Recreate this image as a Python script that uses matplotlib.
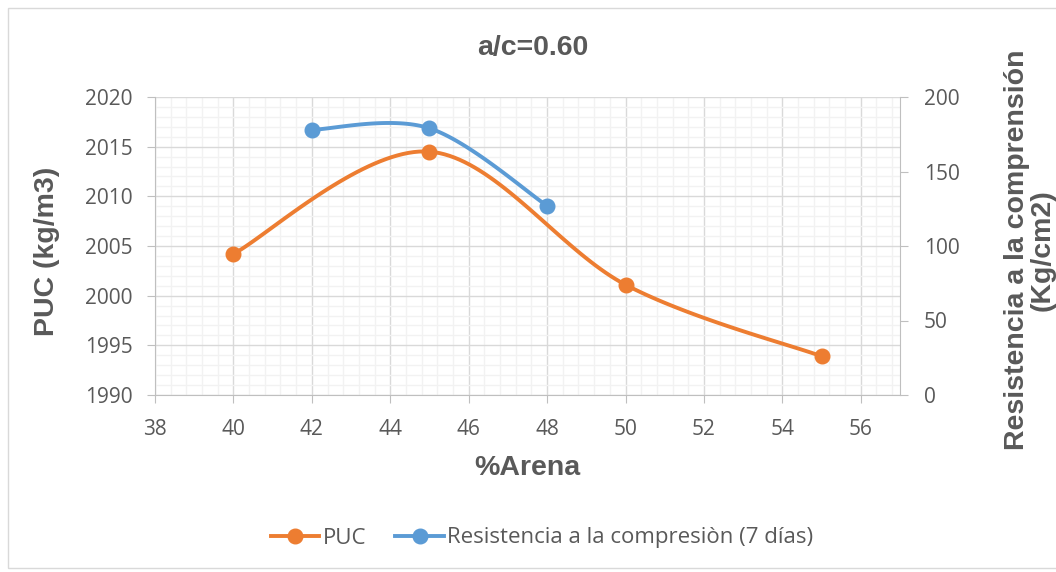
import numpy as np
import matplotlib.pyplot as plt
from matplotlib.patches import Rectangle
from matplotlib.ticker import MultipleLocator

# data
arena_puc = [40, 45, 50, 55]
puc = [2004.2, 2014.5, 2001.1, 1993.9]
arena_res = [42, 45, 48]
resistencia = [178, 179, 127]

title = "a/c=0.60"
xlabel = "%Arena"
ylabel_left = "PUC (kg/m3)"
ylabel_right = "Resistencia a la comprensión\n(Kg/cm2)"
legend_labels = ["PUC", "Resistencia a la compresiòn (7 días)"]

ORANGE = "#ED7D31"
BLUE = "#5B9BD5"
TXT = "#595959"


def smooth(x, y, n=40):
    # Excel-style smoothed line: cubic Bezier with Catmull-Rom control points
    x = np.asarray(x, float)
    y = np.asarray(y, float)
    pts = np.column_stack([x, y])
    out = [pts[0]]
    t = np.linspace(0, 1, n)[1:]
    for i in range(len(pts) - 1):
        p0 = pts[i - 1] if i > 0 else pts[i]
        p1 = pts[i]
        p2 = pts[i + 1]
        p3 = pts[i + 2] if i + 2 < len(pts) else pts[i + 1]
        c1 = p1 + (p2 - p0) / 6
        c2 = p2 - (p3 - p1) / 6
        for tt in t:
            b = ((1 - tt) ** 3) * p1 + 3 * ((1 - tt) ** 2) * tt * c1 \
                + 3 * (1 - tt) * tt ** 2 * c2 + tt ** 3 * p2
            out.append(b)
    out = np.array(out)
    return out[:, 0], out[:, 1]


plt.rcParams['font.family'] = ['Open Sans', 'DejaVu Sans']

fig = plt.figure(figsize=(10.56, 5.72), dpi=100)
fig.patches.append(Rectangle((8 / 1056, 4 / 572), 1.2, 560 / 572, transform=fig.transFigure,
                             fill=False, edgecolor="#D9D9D9", lw=1))

ax = fig.add_axes([155 / 1056, 1 - 395 / 572, 745 / 1056, 298 / 572])
ax2 = ax.twinx()

ax.set_xlim(38, 57)
ax.set_ylim(1990, 2020)
ax2.set_ylim(0, 200)

ax.xaxis.set_major_locator(MultipleLocator(2))
ax.xaxis.set_minor_locator(MultipleLocator(0.4))
ax.yaxis.set_major_locator(MultipleLocator(5))
ax.yaxis.set_minor_locator(MultipleLocator(1))
ax2.yaxis.set_major_locator(MultipleLocator(50))

ax.grid(which="minor", color="#F2F2F2", lw=1)
ax.grid(which="major", color="#D9D9D9", lw=1)
ax.set_axisbelow(True)

for a in (ax, ax2):
    for s in a.spines.values():
        s.set_visible(False)
ax.spines["left"].set_visible(True)
ax.spines["left"].set_color("#BFBFBF")
ax.spines["bottom"].set_visible(True)
ax.spines["bottom"].set_color("#BFBFBF")
ax2.spines["right"].set_visible(True)
ax2.spines["right"].set_color("#BFBFBF")

ax.tick_params(axis="y", which="major", length=6, color="#BFBFBF", labelsize=15,
               labelcolor=TXT, pad=10)
ax.tick_params(axis="x", which="major", length=6, color="#BFBFBF", labelsize=15,
               labelcolor=TXT, pad=11)
ax.tick_params(which="minor", length=0)
ax2.tick_params(which="major", length=6, color="#BFBFBF", labelsize=15, labelcolor=TXT, pad=11)
ax2.tick_params(which="minor", length=0)

xs, ys = smooth(arena_puc, puc)
ax.plot(xs, ys, color=ORANGE, lw=2.8, solid_capstyle="round")
ax.plot(arena_puc, puc, "o", color=ORANGE, ms=10.5)
xs, ys = smooth(arena_res, resistencia)
ax2.plot(xs, ys, color=BLUE, lw=2.8, solid_capstyle="round")
ax2.plot(arena_res, resistencia, "o", color=BLUE, ms=10.5)

bold = dict(family=['Liberation Sans', 'DejaVu Sans'], fontweight="bold", color=TXT)
fig.text(533 / 1056, 1 - 48 / 572, title, ha="center", va="center", fontsize=20.5, **bold)
fig.text(527 / 1056, 1 - 468 / 572, xlabel, ha="center", va="center", fontsize=20.5, **bold)
fig.text(47 / 1056, 1 - 251 / 572, ylabel_left, ha="center", va="center", rotation=90,
         fontsize=20.5, **bold)
fig.text(1030 / 1056, 1 - 250 / 572, ylabel_right, ha="center", va="center", rotation=90,
         fontsize=20.5, linespacing=0.95, multialignment="center", **bold)

h1, = ax.plot([], [], "-o", color=ORANGE, lw=2.8, ms=10.5)
h2, = ax.plot([], [], "-o", color=BLUE, lw=2.8, ms=10.5)
fig.legend([h1, h2], legend_labels, loc="center", bbox_to_anchor=(542 / 1056, 1 - 538 / 572),
           ncol=2, frameon=False, fontsize=16, labelcolor=TXT, handlelength=2.2,
           handletextpad=0.15, columnspacing=1.3)

fig.savefig("out.png", dpi=100)
